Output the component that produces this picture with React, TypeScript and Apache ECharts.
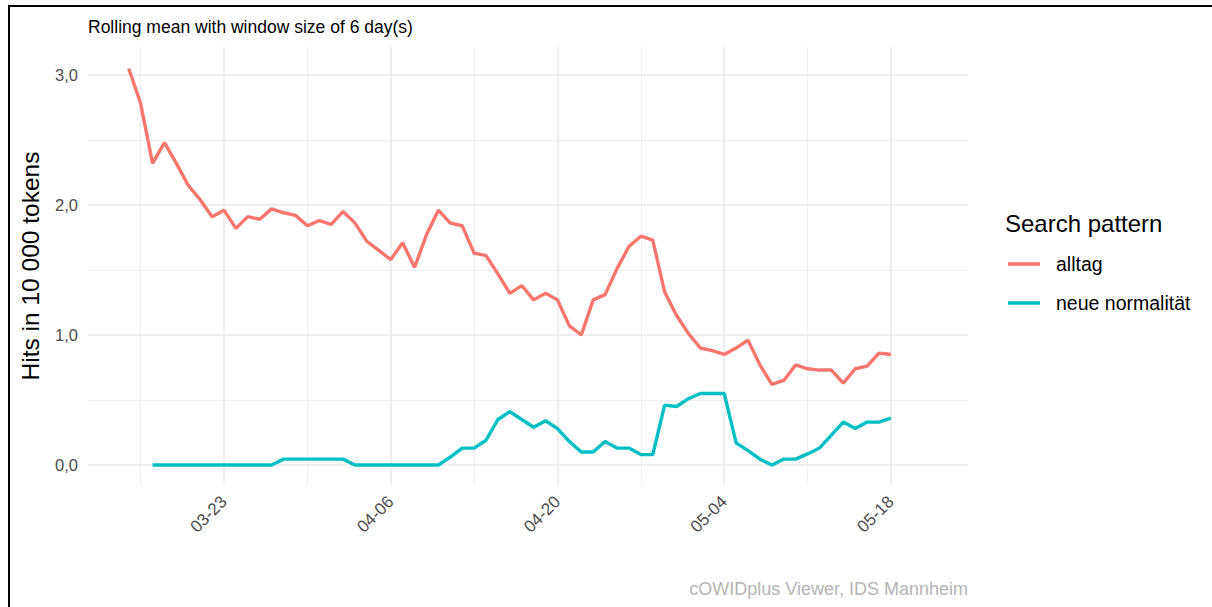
import React, { useEffect, useRef } from "react";
import * as echarts from "echarts";

// ---- data ----
const ALLTAG_START = "03-15";
const ALLTAG = [
  3.05, 2.78, 2.32, 2.48, 2.32, 2.15, 2.04, 1.91, 1.96, 1.82, 1.91, 1.89, 1.97, 1.94, 1.92, 1.84, 1.88,
  1.85, 1.95, 1.86, 1.72, 1.65, 1.58, 1.71, 1.52, 1.77, 1.96,
  1.86, 1.84, 1.63, 1.61, 1.47, 1.32, 1.38, 1.27, 1.32, 1.27,
  1.07, 1.0, 1.27, 1.31, 1.51, 1.68, 1.76, 1.73, 1.33, 1.15,
  1.01, 0.9, 0.88, 0.85, 0.9, 0.96, 0.77, 0.62, 0.65, 0.77, 0.74, 0.73, 0.73, 0.63, 0.74, 0.76, 0.86, 0.85,
];
const NEUE_START = "03-17";
const NEUE = [
  0, 0, 0, 0, 0, 0, 0, 0, 0, 0, 0,
  0.045, 0.045, 0.045, 0.045, 0.045, 0.045,
  0, 0, 0, 0, 0, 0, 0, 0,
  0.06, 0.13, 0.13, 0.19, 0.35, 0.41, 0.35, 0.29, 0.34, 0.28,
  0.18, 0.1, 0.1, 0.18, 0.13, 0.13, 0.08, 0.08, 0.46, 0.45,
  0.51, 0.55, 0.55, 0.55, 0.17, 0.11, 0.045, 0, 0.045, 0.045, 0.085, 0.13, 0.23, 0.33, 0.28, 0.33, 0.33, 0.36,
];
const X_TICK_LABELS = ["03-23", "04-06", "04-20", "05-04", "05-18"];
const X_MINOR_GRID = ["03-16", "03-30", "04-13", "04-27", "05-11"];
const Y_TICKS = [0, 1, 2, 3];
const Y_MINOR = [0.5, 1.5, 2.5];
const SERIES_NAMES = ["alltag", "neue normalität"];

const ORIGIN = Date.UTC(2020, 2, 9);
function dayIndex(mmdd: string): number {
  const [m, d] = mmdd.split("-").map(Number);
  return Math.round((Date.UTC(2020, m - 1, d) - ORIGIN) / 86400000);
}
function dayLabel(i: number): string {
  const dt = new Date(ORIGIN + Math.round(i) * 86400000);
  return String(dt.getUTCMonth() + 1).padStart(2, "0") + "-" + String(dt.getUTCDate()).padStart(2, "0");
}
function toPairs(start: string, vals: number[]) {
  const s = dayIndex(start);
  return vals.map((v, i) => [s + i, v]);
}

const FONT = "'Liberation Sans', Arial, Helvetica, sans-serif";
const GRID_COLOR = "#ebebeb";

export default function App() {
  const ref = useRef<HTMLDivElement>(null);
  useEffect(() => {
    if (!ref.current) return;
    const chart = echarts.init(ref.current, undefined, { renderer: "svg" });
    const gridLine = (major: boolean) => ({
      type: "line",
      data: [],
      silent: true,
      z: 0,
      markLine: {
        silent: true,
        z: 0,
        symbol: ["none", "none"],
        label: { show: false },
        emphasis: { disabled: true },
        lineStyle: { type: "solid", color: GRID_COLOR, width: major ? 1.6 : 0.8 },
        data: major
          ? [
              ...X_TICK_LABELS.map((l) => ({ xAxis: dayIndex(l) })),
              ...Y_TICKS.map((v) => ({ yAxis: v })),
            ]
          : [
              ...X_MINOR_GRID.map((l) => ({ xAxis: dayIndex(l) })),
              ...Y_MINOR.map((v) => ({ yAxis: v })),
            ],
      },
    });
    chart.setOption({
      animation: false,
      textStyle: { fontFamily: FONT },
      title: [
        {
          text: "Rolling mean with window size of 6 day(s)",
          left: 88,
          top: 18,
          padding: 0,
          textStyle: { fontSize: 17.5, fontWeight: "normal", color: "#000", fontFamily: FONT },
        },
        {
          text: "Search pattern",
          left: 1005,
          top: 211,
          padding: 0,
          textStyle: { fontSize: 24, fontWeight: "normal", color: "#000", fontFamily: FONT },
        },
        {
          text: "cOWIDplus Viewer, IDS Mannheim",
          right: 244,
          top: 580,
          padding: 0,
          textStyle: { fontSize: 18, fontWeight: "normal", color: "#b5b5b5", fontFamily: FONT },
        },
      ],
      legend: {
        data: SERIES_NAMES,
        orient: "vertical",
        left: 1008,
        top: 254,
        padding: 0,
        icon: "rect",
        itemWidth: 32,
        itemHeight: 3.5,
        itemGap: 19,
        textStyle: { fontSize: 19.5, color: "#000", padding: [0, 0, 0, 11], fontFamily: FONT },
      },
      grid: { left: 88, right: 244, top: 47, bottom: 122, containLabel: false },
      xAxis: {
        type: "value",
        min: 2.58,
        max: 76.47,
        axisLine: { show: false },
        axisTick: { show: false, customValues: X_TICK_LABELS.map(dayIndex) },
        splitLine: { show: false },
        axisLabel: {
          customValues: X_TICK_LABELS.map(dayIndex),
          formatter: (v: number) => dayLabel(v),
          rotate: 45,
          margin: 14,
          fontSize: 17,
          color: "#4d4d4d",
          fontFamily: FONT,
        },
      },
      yAxis: {
        type: "value",
        min: -0.154,
        max: 3.215,
        name: "Hits in 10 000 tokens",
        nameLocation: "middle",
        nameGap: 45,
        nameTextStyle: { fontSize: 24.5, color: "#000", fontFamily: FONT },
        axisLine: { show: false },
        axisTick: { show: false, customValues: Y_TICKS },
        splitLine: { show: false },
        axisLabel: {
          customValues: Y_TICKS,
          formatter: (v: number) => v.toFixed(1).replace(".", ","),
          margin: 10,
          fontSize: 16.5,
          color: "#4d4d4d",
          fontFamily: FONT,
        },
      },
      series: [
        gridLine(false),
        gridLine(true),
        {
          name: SERIES_NAMES[0],
          type: "line",
          data: toPairs(ALLTAG_START, ALLTAG),
          showSymbol: false,
          z: 6,
          color: "#F8766D",
          lineStyle: { width: 3.4, color: "#F8766D" },
        },
        {
          name: SERIES_NAMES[1],
          type: "line",
          data: toPairs(NEUE_START, NEUE),
          showSymbol: false,
          z: 6,
          color: "#00BFC4",
          lineStyle: { width: 3.4, color: "#00BFC4" },
        },
      ],
    });
    return () => chart.dispose();
  }, []);
  return (
    <div style={{ position: "fixed", left: 0, top: 0, width: 1212, height: 607, background: "#fff" }}>
      <div
        ref={ref}
        style={{ position: "absolute", left: 0, top: 0, width: 1212, height: 607 }}
      />
      <div
        style={{
          position: "absolute",
          left: 8,
          top: 5,
          width: 1300,
          height: 700,
          borderTop: "2px solid #000",
          borderLeft: "2px solid #000",
          pointerEvents: "none",
        }}
      />
    </div>
  );
}
